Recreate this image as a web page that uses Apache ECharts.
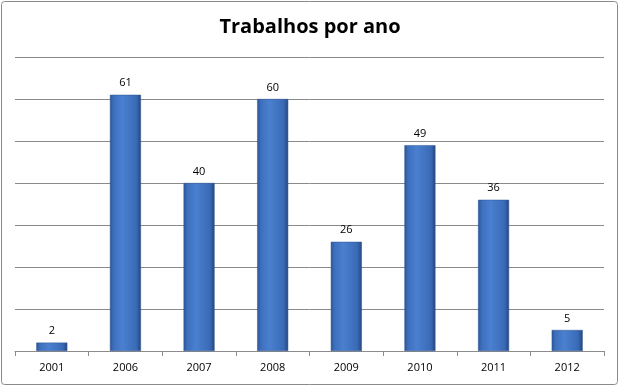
<!DOCTYPE html>
<html><head><meta charset="utf-8">
<script src="https://cdn.jsdelivr.net/npm/echarts@6/dist/echarts.min.js"></script>
<style>html,body{margin:0;padding:0;background:#fff}#c{width:620px;height:387px}</style>
</head><body><div id="c"></div>
<script>
const categories = ['2001','2006','2007','2008','2009','2010','2011','2012'];
const values = [2, 61, 40, 60, 26, 49, 36, 5];
const yMin = 0, yMax = 70, yInterval = 10;

const chart = echarts.init(document.getElementById('c'), null, {renderer:'canvas'});
const barColor = new echarts.graphic.LinearGradient(0,0,1,0,[
  {offset:0,color:'#2a5598'},
  {offset:0.12,color:'#3e6fbd'},
  {offset:0.4,color:'#4a80d0'},
  {offset:0.85,color:'#3a6ab6'},
  {offset:1,color:'#24477f'}
]);
chart.setOption({
  animation:false,
  title:{text:'Trabalhos por ano',left:'center',top:12,
    textStyle:{fontFamily:'Open Sans',fontWeight:'bold',fontSize:20,color:'#000'}},
  graphic:[{type:'rect',shape:{x:1.5,y:1.5,width:616,height:383,r:3},
    style:{fill:'none',stroke:'#8a8a8a',lineWidth:1},silent:true}],
  grid:{left:15,right:16,top:57,bottom:36,containLabel:false},
  xAxis:{type:'category',data:categories,
    axisLine:{lineStyle:{color:'#8c8c8c'}},
    axisTick:{show:true,length:5,lineStyle:{color:'#8c8c8c'}},
    axisLabel:{fontFamily:'Open Sans',fontSize:11,color:'#000',margin:11}},
  yAxis:{type:'value',min:yMin,max:yMax,interval:yInterval,
    axisLabel:{show:false},axisLine:{show:false},axisTick:{show:false},
    splitLine:{lineStyle:{color:'#8a8a8a',width:1}}},
  series:[{type:'bar',data:values,barWidth:31,
    itemStyle:{color:barColor,borderColor:'#2c5390',borderWidth:0.5},
    label:{show:true,position:'top',distance:6,fontFamily:'Open Sans',fontSize:11,color:'#000'}}]
});
</script></body></html>
